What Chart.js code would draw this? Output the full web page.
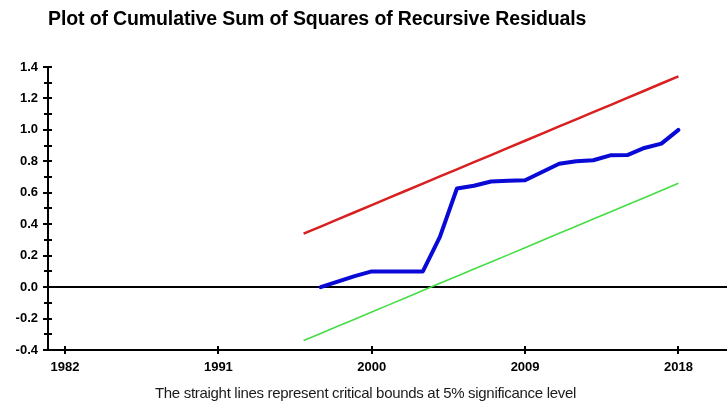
<!DOCTYPE html>
<html>
<head>
<meta charset="utf-8">
<title>CUSUM of Squares</title>
<script src="https://cdn.jsdelivr.net/npm/chart.js@4.4.1/dist/chart.umd.min.js"></script>
<style>
  html, body { margin: 0; padding: 0; background: #ffffff; }
  #wrap { position: relative; width: 727px; height: 407px; overflow: hidden; }
  #plot { position: absolute; left: 0; top: 0; }
  .caption { position: absolute; white-space: nowrap; font-family: 'Liberation Sans', Arial, sans-serif; color: #000; }
  #title { left: 48px; top: 7px; font-size: 19.5px; font-weight: bold; letter-spacing: -0.12px; }
  #note { left: 2px; width: 727px; text-align: center; top: 384px; font-size: 15px; letter-spacing: -0.3px; color: #1a1a1a; }
</style>
</head>
<body>
<div id="wrap">
  <canvas id="plot" width="727" height="407"></canvas>
  <div class="caption" id="title">Plot of Cumulative Sum of Squares of Recursive Residuals</div>
  <div class="caption" id="note">The straight lines represent critical bounds at 5% significance level</div>
</div>
<script>
// Years on which the 5% critical bounds are evaluated
const boundYears = [1996, 1997, 1998, 1999, 2000, 2001, 2002, 2003, 2004, 2005, 2006, 2007,
                    2008, 2009, 2010, 2011, 2012, 2013, 2014, 2015, 2016, 2017, 2018];
const upperBound = [0.340, 0.385, 0.431, 0.476, 0.522, 0.567, 0.613, 0.658, 0.704, 0.749, 0.795, 0.840,
                    0.885, 0.931, 0.976, 1.022, 1.067, 1.113, 1.158, 1.204, 1.249, 1.295, 1.340];
const lowerBound = [-0.340, -0.295, -0.249, -0.204, -0.158, -0.113, -0.067, -0.022, 0.024, 0.069, 0.115, 0.160,
                    0.205, 0.251, 0.296, 0.342, 0.387, 0.433, 0.478, 0.524, 0.569, 0.615, 0.660];

// Cumulative sum of squares of recursive residuals
const cusumYears = [1997, 1998, 1999, 2000, 2001, 2002, 2003, 2004, 2005, 2006, 2007,
                    2008, 2009, 2010, 2011, 2012, 2013, 2014, 2015, 2016, 2017, 2018];
const cusumSq = [0.000, 0.035, 0.070, 0.100, 0.100, 0.100, 0.100, 0.320, 0.627, 0.645, 0.672,
                 0.676, 0.680, 0.732, 0.785, 0.800, 0.807, 0.838, 0.840, 0.885, 0.913, 1.000];

// Axis tick labels
const xTickYears = [1982, 1991, 2000, 2009, 2018];
const yTickValues = [-0.4, -0.2, 0.0, 0.2, 0.4, 0.6, 0.8, 1.0, 1.2, 1.4];
const yMinorValues = [-0.3, -0.1, 0.1, 0.3, 0.5, 0.7, 0.9, 1.1, 1.3];

const pairs = (xs, ys) => xs.map((x, i) => ({ x: x, y: ys[i] }));

const FONT = "'Liberation Sans', Arial, sans-serif";

// Small tick marks that straddle both axis lines
const crossTicks = {
  id: 'crossTicks',
  afterDraw(chart) {
    const ctx = chart.ctx;
    const xs = chart.scales.x, ys = chart.scales.y;
    const ax = xs.left, ay = ys.bottom;
    ctx.save();
    ctx.strokeStyle = '#000';
    ctx.lineWidth = 2;
    ctx.beginPath();
    yTickValues.forEach(v => {
      const p = Math.round(ys.getPixelForValue(v));
      ctx.moveTo(ax - 5, p); ctx.lineTo(ax + 4, p);
    });
    yMinorValues.forEach(v => {
      const p = Math.round(ys.getPixelForValue(v));
      ctx.moveTo(ax - 4, p); ctx.lineTo(ax + 4, p);
    });
    xTickYears.forEach(v => {
      const p = Math.round(xs.getPixelForValue(v));
      ctx.moveTo(p, ay - 4); ctx.lineTo(p, ay + 4);
    });
    ctx.stroke();
    ctx.restore();
  }
};

new Chart(document.getElementById('plot'), {
  type: 'line',
  data: {
    datasets: [
      { label: 'CUSUM of squares', data: pairs(cusumYears, cusumSq),
        borderColor: '#0a0ad6', borderWidth: 4, pointRadius: 0, tension: 0,
        borderJoinStyle: 'round', borderCapStyle: 'round', order: 0 },
      { label: 'Upper bound', data: pairs(boundYears, upperBound),
        borderColor: '#d82020', borderWidth: 2.5, pointRadius: 0, tension: 0, order: 1 },
      { label: 'Lower bound', data: pairs(boundYears, lowerBound),
        borderColor: '#44dd44', borderWidth: 1.6, pointRadius: 0, tension: 0, order: 2 }
    ]
  },
  options: {
    responsive: false,
    animation: false,
    devicePixelRatio: 1,
    layout: { padding: { top: 67, right: 0, left: 0, bottom: 0 } },
    plugins: {
      legend: { display: false },
      tooltip: { enabled: false },
      title: { display: false }
    },
    scales: {
      x: {
        type: 'linear',
        min: 1981,
        max: 2020.85,
        afterBuildTicks: s => { s.ticks = xTickYears.map(v => ({ value: v })); },
        afterFit: s => { s.height = 57; },
        border: { display: true, color: '#000', width: 2 },
        grid: { display: false, drawTicks: false },
        ticks: {
          padding: 10,
          color: '#000',
          font: { family: FONT, size: 13, weight: 'bold' },
          callback: v => String(v),
          maxRotation: 0
        }
      },
      y: {
        min: -0.4,
        max: 1.4,
        afterBuildTicks: s => { s.ticks = yTickValues.map(v => ({ value: v })); },
        afterFit: s => { s.width = 48; },
        border: { display: true, color: '#000', width: 2 },
        grid: {
          drawTicks: false,
          lineWidth: 2,
          color: c => (c.tick && Math.abs(c.tick.value) < 1e-9 ? '#000' : 'rgba(0,0,0,0)')
        },
        ticks: {
          padding: 10,
          color: '#000',
          font: { family: FONT, size: 13, weight: 'bold' },
          callback: v => v.toFixed(1)
        }
      }
    }
  },
  plugins: [crossTicks]
});
</script>
</body>
</html>
